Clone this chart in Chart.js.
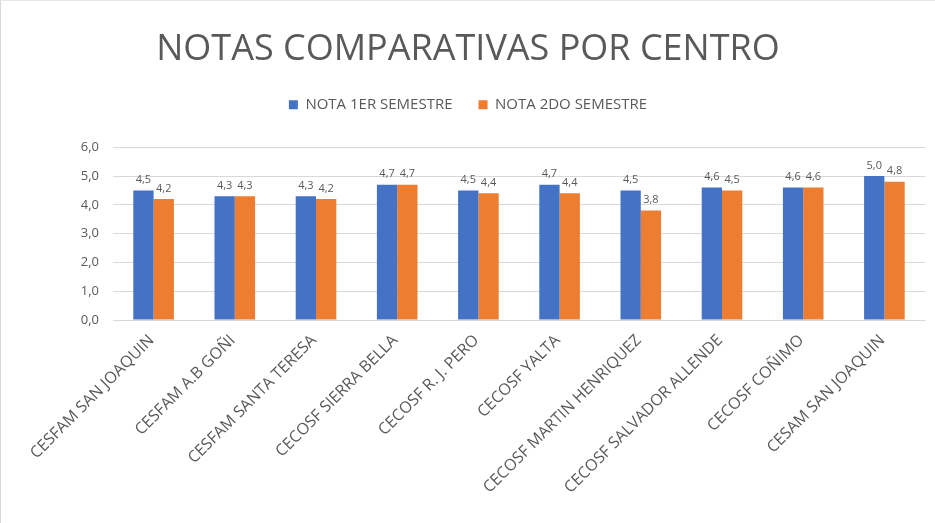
<!DOCTYPE html>
<html>
<head>
<meta charset="utf-8">
<script src="https://cdn.jsdelivr.net/npm/chart.js@4"></script>
<style>
  html, body { margin: 0; padding: 0; background: #fff; }
  #wrap { position: relative; width: 935px; height: 523px; box-sizing: border-box; border-left: 1px solid #d9d9d9; border-top: 1px solid #e6e6e6; }
</style>
</head>
<body>
<div id="wrap"><canvas id="chart"></canvas></div>
<script>
// Chart data
const centros = [
    'CESFAM SAN JOAQUIN',
    'CESFAM A.B GOÑI',
    'CESFAM SANTA TERESA',
    'CECOSF SIERRA BELLA',
    'CECOSF R. J. PERO',
    'CECOSF YALTA',
    'CECOSF MARTIN HENRIQUEZ',
    'CECOSF SALVADOR ALLENDE',
    'CECOSF COÑIMO',
    'CESAM SAN JOAQUIN'
];
const nota1erSemestre = [4.5, 4.3, 4.3, 4.7, 4.5, 4.7, 4.5, 4.6, 4.6, 5.0];
const nota2doSemestre = [4.2, 4.3, 4.2, 4.7, 4.4, 4.4, 3.8, 4.5, 4.6, 4.8];
const yTicks = [0, 1, 2, 3, 4, 5, 6];

const fontFamily = "'Open Sans', 'Noto Sans', sans-serif";
const textGrey = '#595959';

const fmt = v => v.toFixed(1).replace('.', ',');

// Draw the value labels above every bar
const valueLabels = {
    id: 'valueLabels',
    afterDatasetsDraw(chart) {
        const ctx = chart.ctx;
        ctx.save();
        ctx.font = '11px ' + fontFamily;
        ctx.fillStyle = textGrey;
        ctx.textAlign = 'center';
        ctx.textBaseline = 'bottom';
        chart.data.datasets.forEach((ds, i) => {
            chart.getDatasetMeta(i).data.forEach((bar, j) => {
                ctx.fillText(fmt(ds.data[j]), bar.x, bar.y - 5);
            });
        });
        ctx.restore();
    }
};

// Extra room between legend and plot
const legendMargin = {
    id: 'legendMargin',
    beforeInit(chart) {
        const fit = chart.legend.fit;
        chart.legend.fit = function () {
            fit.bind(chart.legend)();
            this.height += 25;
        };
    }
};

new Chart(document.getElementById('chart'), {
    type: 'bar',
    data: {
        labels: centros,
        datasets: [
            {
                label: 'NOTA 1ER SEMESTRE',
                data: nota1erSemestre,
                backgroundColor: '#4472C4'
            },
            {
                label: 'NOTA 2DO SEMESTRE',
                data: nota2doSemestre,
                backgroundColor: '#ED7D31'
            }
        ]
    },
    options: {
        responsive: true,
        maintainAspectRatio: false,
        animation: false,
        datasets: {
            bar: { categoryPercentage: 0.5, barPercentage: 1.0 }
        },
        layout: { padding: { left: 10, right: 10, top: 27, bottom: 0 } },
        plugins: {
            title: {
                display: true,
                text: 'NOTAS COMPARATIVAS POR CENTRO',
                color: textGrey,
                font: { family: fontFamily, size: 36, weight: 'normal' },
                padding: { top: 0, bottom: 0 }
            },
            legend: {
                position: 'top',
                labels: {
                    color: textGrey,
                    font: { family: fontFamily, size: 15 },
                    boxWidth: 9,
                    boxHeight: 9,
                    padding: 26
                }
            },
            tooltip: { enabled: false }
        },
        scales: {
            x: {
                grid: { display: false },
                border: { color: '#d9d9d9' },
                ticks: {
                    color: textGrey,
                    font: { family: fontFamily, size: 16 },
                    minRotation: 45,
                    maxRotation: 45,
                    autoSkip: false,
                    labelOffset: -2
                },
                afterFit: scale => { scale.height = 203; }
            },
            y: {
                min: 0,
                max: 6,
                afterBuildTicks: scale => { scale.ticks = yTicks.map(v => ({ value: v })); },
                grid: { color: '#d9d9d9', drawTicks: false },
                border: { display: false },
                ticks: {
                    color: textGrey,
                    padding: 14,
                    font: { family: fontFamily, size: 13 },
                    callback: v => fmt(v)
                },
                afterFit: scale => { scale.width = 102; }
            }
        }
    },
    plugins: [valueLabels, legendMargin]
});
</script>
</body>
</html>
